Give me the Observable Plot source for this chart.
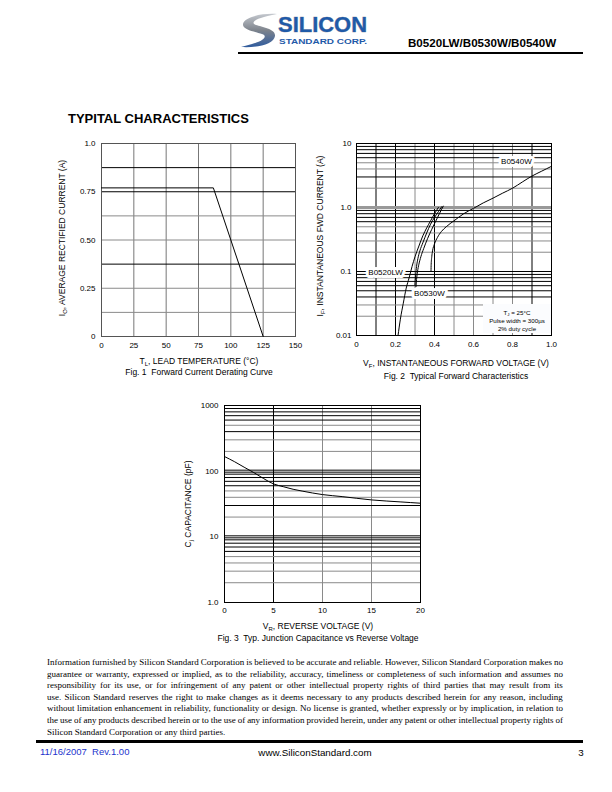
<!DOCTYPE html>
<html><head><meta charset="utf-8">
<script src="https://cdn.jsdelivr.net/npm/d3@7"></script>
<script src="https://cdn.jsdelivr.net/npm/@observablehq/plot@0.6"></script>
<style>
html,body{margin:0;padding:0;background:#fff;}
#page{position:relative;width:612px;height:792px;overflow:hidden;font-family:"Liberation Sans",Arial,Helvetica,sans-serif;color:#000;background:#fff;}
.abs{position:absolute;white-space:nowrap;}
.c{transform:translate(-50%,-50%);}
.lc{transform:translate(0,-50%);}
.rot{transform:translate(-50%,-50%) rotate(-90deg);}
sub{font-size:70%;vertical-align:-0.3em;line-height:0;}
.lbl{font-size:8.5px;}
.disc{position:absolute;left:47px;width:516px;font-family:"Liberation Serif","Times New Roman",serif;font-size:9px;line-height:11px;white-space:nowrap;transform:translate(0,-50%);}
.just{display:flex;justify-content:space-between;}
</style>
</head><body><div id="page">
<svg class="abs" style="left:238px;top:8px" width="140" height="42" viewBox="0 0 140 42">
  <defs><linearGradient id="sw" x1="0" y1="0" x2="0" y2="1">
    <stop offset="0" stop-color="#c4c8ce"/><stop offset="0.5" stop-color="#7d838c"/><stop offset="1" stop-color="#2f5b9e"/></linearGradient></defs>
  <path d="M39 6 C24 5 6 9 5 16 C4 22 18 24 24 26 C30 28 26 33 14 36 L3 39 C20 40 36 36 37 28 C38 21 24 19 18 17 C12 15 16 10 39 6 Z" fill="url(#sw)"/>
  <text x="40" y="23.5" font-family="Liberation Sans,Arial,sans-serif" font-weight="bold" font-size="22" fill="#1f5aa8" stroke="#8f949b" stroke-width="0.6" paint-order="stroke" textLength="89" lengthAdjust="spacingAndGlyphs">SILICON</text>
  <text x="41" y="36" font-family="Liberation Sans,Arial,sans-serif" font-weight="bold" font-size="8" fill="#1f5aa8" textLength="88" lengthAdjust="spacingAndGlyphs">STANDARD CORP.</text>
</svg>
</div>
<script>
// ---------- Fig. 1 data ----------
const fig1Temp = [0, 86.5, 125];
const fig1Current = [0.77, 0.77, 0];
const fig1XTicks = [0, 25, 50, 75, 100, 125, 150];
const fig1YTicks = [0, 0.25, 0.5, 0.75, 1.0];
const fig1YTickLabels = ["0", "0.25", "0.50", "0.75", "1.0"];
const fig1GridX = [25, 50, 75, 100, 125];
const fig1GridYBlack = [0.375, 0.75, 0.875];
const fig1GridYGray = [0.125, 0.25, 0.5, 0.625];

// ---------- Fig. 2 data ----------
const fig2XTicks = [0, 0.2, 0.4, 0.6, 0.8, 1.0];
const fig2XTickLabels = ["0", "0.2", "0.4", "0.6", "0.8", "1.0"];
const fig2YTicks = [0.01, 0.1, 1, 10];
const fig2YTickLabels = ["0.01", "0.1", "1.0", "10"];
const fig2GridXBlack = [0.1, 0.2, 0.4, 0.9];
const fig2GridXGray = [0.3, 0.5, 0.6, 0.7, 0.8];
const fig2GridYBlack = [0.04, 0.05, 0.06, 0.07, 0.08, 0.09, 0.1, 0.6, 0.7, 0.8, 0.9, 3, 6, 7, 8, 9];
const fig2GridYGray = [0.02, 0.03, 0.2, 0.3, 0.4, 0.5, 2, 4, 5];
const fig2GridYHeavy = [1];
const b0520lwV = [0.213, 0.225, 0.24, 0.255, 0.27, 0.285, 0.30, 0.32, 0.34, 0.36, 0.38, 0.40, 0.42];
const b0520lwI = [0.01, 0.018, 0.032, 0.055, 0.08, 0.12, 0.17, 0.25, 0.36, 0.48, 0.62, 0.80, 1.0];
const b0530wV = [0.300, 0.303, 0.308, 0.315, 0.325, 0.34, 0.36, 0.38, 0.40, 0.42, 0.437];
const b0530wI = [0.062, 0.085, 0.12, 0.16, 0.21, 0.28, 0.40, 0.55, 0.70, 0.86, 1.03];
const b0530wBV = [0.305, 0.308, 0.313, 0.32, 0.33, 0.345, 0.365, 0.385, 0.405, 0.425, 0.445];
const b0530wBI = [0.058, 0.075, 0.10, 0.13, 0.17, 0.23, 0.33, 0.45, 0.60, 0.80, 1.05];
const b0540wV = [0.382, 0.383, 0.386, 0.39, 0.40, 0.415, 0.435, 0.46, 0.50, 0.55, 0.60, 0.65, 0.70, 0.75, 0.80, 0.85, 0.90, 0.95, 1.0];
const b0540wI = [0.10, 0.13, 0.17, 0.21, 0.27, 0.34, 0.42, 0.50, 0.62, 0.80, 0.97, 1.18, 1.4, 1.68, 2.0, 2.5, 3.1, 3.7, 4.4];
const fig2SeriesNames = ["B0520LW", "B0530W", "B0540W"];
const fig2LabelV = [0.149, 0.374, 0.82];
const fig2LabelI = [0.096, 0.045, 5.2];

// ---------- Fig. 3 data ----------
const fig3VR = [0, 1, 2, 3, 4, 5, 6, 7, 8, 10, 12, 15, 18, 20];
const fig3Cj = [167, 140, 115, 95, 77, 64, 58, 53, 49.5, 44, 41, 36.5, 34, 32.5];
const fig3XTicks = [0, 5, 10, 15, 20];
const fig3YTicks = [1, 10, 100, 1000];
const fig3YTickLabels = ["1.0", "10", "100", "1000"];
const fig3GridXBlack = [5];
const fig3GridXGray = [10, 15];
const fig3GridYBlack = [6, 7, 8, 9, 30, 60, 70, 80, 90, 400, 600, 700, 800, 900];
const fig3GridYGray = [2, 3, 4, 5, 20, 40, 50, 200, 300, 500];
const fig3GridYDouble = [10, 100];

// ---------- page text ----------
const disclaimerLines = [
  "Information furnished by Silicon Standard Corporation is believed to be accurate and reliable. However, Silicon Standard Corporation makes no",
  "guarantee or warranty, expressed or implied, as to the reliability, accuracy, timeliness or completeness of such information and assumes no",
  "responsibility for its use, or for infringement of any patent or other intellectual property rights of third parties that may result from its",
  "use.  Silicon Standard reserves the right to make changes as it deems necessary to any products described herein for any reason, including",
  "without limitation enhancement in reliability, functionality or design. No license is granted, whether expressly or by implication, in relation to",
  "the use of any products described herein or to the use of any information provided herein, under any patent or other intellectual property rights of",
  "Silicon Standard Corporation or any third parties."
];

const page = document.getElementById("page");
const FONT = "Liberation Sans, Arial, Helvetica, sans-serif";
const GRAY = "#8a8a8a";

function put(el, left, top) {
  el.style.position = "absolute";
  el.style.left = left + "px";
  el.style.top = top + "px";
  page.appendChild(el);
  return el;
}
function txt(html, x, y, cls, extra) {
  const d = document.createElement("div");
  d.className = "abs " + cls;
  d.innerHTML = html;
  if (extra) Object.assign(d.style, extra);
  return put(d, x, y);
}
const plotStyle = {background: "none", fontSize: "8px", fontFamily: FONT, color: "#000", overflow: "visible"};
const lbl = (ticks, labels) => d => labels[ticks.indexOf(d)];

// ---------- Fig. 1 ----------
const fig1Data = fig1Temp.map((t, i) => ({t, c: fig1Current[i]}));
const fig1 = Plot.plot({
  width: 250, height: 225,
  marginLeft: 40, marginRight: 16, marginTop: 10, marginBottom: 22,
  style: plotStyle,
  x: {domain: [0, 150]},
  y: {domain: [0, 1]},
  marks: [
    Plot.ruleX(fig1GridX, {stroke: "#777", strokeWidth: 1}),
    Plot.ruleY(fig1GridYGray, {stroke: GRAY, strokeWidth: 1}),
    Plot.ruleY(fig1GridYBlack, {stroke: "#000", strokeWidth: 1}),
    Plot.frame({stroke: "#555"}),
    Plot.line(fig1Data, {x: "t", y: "c", stroke: "#000", strokeWidth: 1}),
    Plot.axisX({ticks: fig1XTicks, tickSize: 0, tickPadding: 6, label: null, fontSize: 8}),
    Plot.axisY({ticks: fig1YTicks, tickFormat: lbl(fig1YTicks, fig1YTickLabels), tickSize: 0, tickPadding: 6, label: null, fontSize: 8})
  ]
});
put(fig1, 61, 133);

// ---------- Fig. 2 ----------
const toRows = (vs, is, s) => vs.map((v, k) => ({v, i: is[k], s}));
const fig2Curves = [
  toRows(b0520lwV, b0520lwI, "B0520LW"),
  toRows(b0530wV, b0530wI, "B0530W"),
  toRows(b0530wBV, b0530wBI, "B0530W-b"),
  toRows(b0540wV, b0540wI, "B0540W")
].flat();
const fig2Labels = fig2SeriesNames.map((n, k) => ({n, v: fig2LabelV[k], i: fig2LabelI[k]}));
const fig2 = Plot.plot({
  width: 245, height: 225,
  marginLeft: 40, marginRight: 10, marginTop: 10, marginBottom: 23,
  style: plotStyle,
  x: {domain: [0, 1]},
  y: {type: "log", domain: [0.01, 10]},
  marks: [
    Plot.ruleX(fig2GridXGray, {stroke: GRAY}),
    Plot.ruleX(fig2GridXBlack, {stroke: "#000"}),
    Plot.ruleY(fig2GridYGray, {stroke: GRAY}),
    Plot.ruleY(fig2GridYBlack, {stroke: "#000"}),
    Plot.ruleY(fig2GridYHeavy, {stroke: "#999", strokeWidth: 3}),
    Plot.frame({stroke: "#000"}),
    Plot.line(fig2Curves, {x: "v", y: "i", z: "s", stroke: "#000", strokeWidth: 1, curve: "monotone-x"}),
    Plot.text(fig2Labels, {x: "v", y: "i", text: "n", fontSize: 8, fill: "#000", stroke: "#fff", strokeWidth: 6, paintOrder: "stroke"}),
    Plot.axisX({ticks: fig2XTicks, tickFormat: lbl(fig2XTicks, fig2XTickLabels), tickSize: 0, tickPadding: 6, label: null, fontSize: 8}),
    Plot.axisY({ticks: fig2YTicks, tickFormat: lbl(fig2YTicks, fig2YTickLabels), tickSize: 0, tickPadding: 5, label: null, fontSize: 8})
  ]
});
put(fig2, 316, 133);

// ---------- Fig. 3 ----------
const fig3Data = fig3VR.map((v, k) => ({v, c: fig3Cj[k]}));
const fig3 = Plot.plot({
  width: 245, height: 225,
  marginLeft: 40, marginRight: 9, marginTop: 10, marginBottom: 18,
  style: plotStyle,
  x: {domain: [0, 20]},
  y: {type: "log", domain: [1, 1000]},
  marks: [
    Plot.ruleX(fig3GridXGray, {stroke: GRAY}),
    Plot.ruleX(fig3GridXBlack, {stroke: "#000"}),
    Plot.ruleY(fig3GridYGray, {stroke: GRAY}),
    Plot.ruleY(fig3GridYBlack, {stroke: "#000"}),
    Plot.ruleY(fig3GridYDouble, {stroke: "#000", dy: -1}),
    Plot.ruleY(fig3GridYDouble, {stroke: "#000", dy: 1}),
    Plot.frame({stroke: "#000"}),
    Plot.line(fig3Data, {x: "v", y: "c", stroke: "#000", strokeWidth: 1, curve: "monotone-x"}),
    Plot.axisX({ticks: fig3XTicks, tickSize: 0, tickPadding: 5, label: null, fontSize: 8}),
    Plot.axisY({ticks: fig3YTicks, tickFormat: lbl(fig3YTicks, fig3YTickLabels), tickSize: 0, tickPadding: 6, label: null, fontSize: 8})
  ]
});
put(fig3, 184, 395);

// ---------- annotation box in Fig. 2 ----------
const box = document.createElement("div");
box.className = "abs";
Object.assign(box.style, {width: "68px", height: "29px", background: "#fbfcfe", fontSize: "6.2px", lineHeight: "8px", textAlign: "center", paddingTop: "5px", boxSizing: "border-box"});
box.innerHTML = "T<sub>J</sub> = 25°C<br>Pulse width = 300µs<br>2% duty cycle";
put(box, 483, 304);

// ---------- texts ----------
txt("B0520LW/B0530W/B0540W", 408, 42, "lc", {fontSize: "11.6px", fontWeight: "bold"});
const hr = document.createElement("div");
Object.assign(hr.style, {width: "345px", height: "2px", background: "#000"});
put(hr, 238, 52);
txt("TYPITAL CHARACTERISTICS", 68, 118, "lc", {fontSize: "13px", fontWeight: "bold"});

txt("I<sub>O</sub>, AVERAGE RECTIFIED CURRENT (A)", 62, 238, "rot lbl");
txt("T<sub>L</sub>, LEAD TEMPERATURE (°C)", 199, 361, "c lbl");
txt("Fig. 1&nbsp; Forward Current Derating Curve", 199, 372, "c lbl");

txt("I<sub>F</sub>, INSTANTANEOUS FWD CURRENT (A)", 320, 236, "rot lbl");
txt("V<sub>F</sub>, INSTANTANEOUS FORWARD VOLTAGE (V)", 456, 363, "c lbl");
txt("Fig. 2&nbsp; Typical Forward Characteristics", 456, 376, "c lbl");

txt("C<sub>j</sub> CAPACITANCE (pF)", 188, 504, "rot lbl");
txt("V<sub>R</sub>, REVERSE VOLTAGE (V)", 318, 626, "c lbl");
txt("Fig. 3&nbsp; Typ. Junction Capacitance vs Reverse Voltage", 318, 638, "c lbl");

// disclaimer
const lineY = [662, 673.6, 685.2, 696.8, 708.4, 720, 731.6];
disclaimerLines.forEach((line, k) => {
  const d = document.createElement("div");
  d.className = "disc" + (k < disclaimerLines.length - 1 ? " just" : "");
  if (k < disclaimerLines.length - 1) {
    line.split(/\s+/).forEach(w => { const s = document.createElement("span"); s.textContent = w; d.appendChild(s); });
  } else {
    d.textContent = line;
  }
  put(d, 47, lineY[k]);
});

const hr2 = document.createElement("div");
Object.assign(hr2.style, {width: "547px", height: "3px", background: "#000"});
put(hr2, 36, 740);
txt("11/16/2007&nbsp; Rev.1.00", 40, 751, "lc", {fontSize: "9.5px", color: "#2233cc"});
txt("www.SiliconStandard.com", 315, 752, "c", {fontSize: "9.8px"});
txt("3", 581, 752, "c", {fontSize: "9.8px"});
</script>
</body></html>
